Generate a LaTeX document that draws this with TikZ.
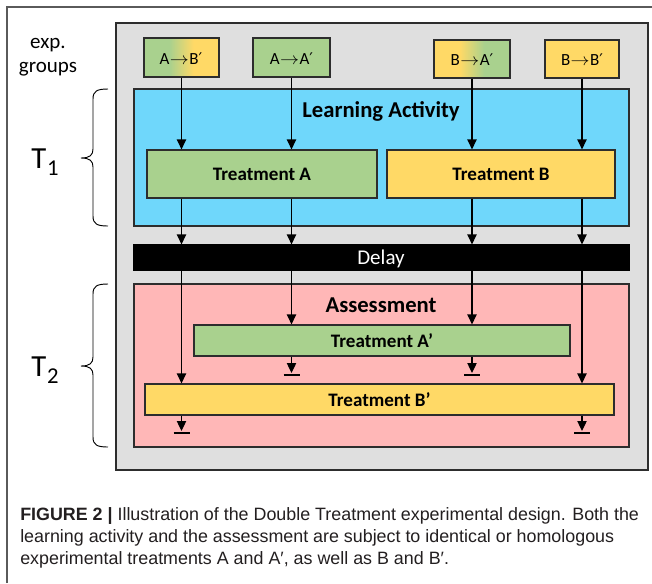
\documentclass[tikz,border=0pt]{standalone}
\usepackage{fix-cm}
\usepackage{fontspec}
\setmainfont{Carlito}
\newfontfamily\capfont{Liberation Sans}
\newfontfamily\symfont{DejaVu Sans}
\usetikzlibrary{arrows.meta,fit}
\definecolor{tgreen}{RGB}{169,209,142}
\definecolor{tyellow}{RGB}{255,217,102}
\definecolor{tblue}{RGB}{111,215,251}
\definecolor{tpink}{RGB}{255,183,183}
\definecolor{tgray}{RGB}{223,223,223}
\definecolor{tedge}{RGB}{45,45,45}
\definecolor{tframe}{RGB}{90,90,90}
\definecolor{captext}{RGB}{35,31,32}
\pgfdeclarehorizontalshading{gyshade}{100bp}{color(0bp)=(tgreen); color(42bp)=(tgreen); color(58bp)=(tyellow); color(100bp)=(tyellow)}
\pgfdeclarehorizontalshading{ygshade}{100bp}{color(0bp)=(tyellow); color(42bp)=(tyellow); color(58bp)=(tgreen); color(100bp)=(tgreen)}
\newcommand\pxfont[1]{\fontsize{#1}{#1}\selectfont}
\newcommand\pr{\textquoteright}
\newcommand\garr{\kern0.3pt\scalebox{1.12}[1]{$\rightarrow$}\kern0.3pt}
\newcommand\gpr{{\symfont\pxfont{12}′}}
\begin{document}
\begin{tikzpicture}[x=0.75pt,y=-0.75pt,
  box/.style={draw=tedge, line width=0.9pt, inner sep=0pt},
  lbl/.style={inner sep=0pt},
  grp/.style={lbl, font=\pxfont{12.75}},
  treat/.style={lbl, font=\bfseries\pxfont{14.3}},
  title/.style={font=\bfseries\pxfont{17}, anchor=base, inner sep=0pt},
  arr/.style={line width=0.9pt, -{Triangle[width=7pt,length=7.5pt]}},
  stopbar/.style={line width=1.6pt},
  brc/.style={line width=0.7pt},
  caption/.style={font=\capfont\pxfont{13.4}, text=captext, anchor=base west, inner sep=0pt}]
\useasboundingbox (0,0) rectangle (652,583);
\fill[white] (0,0) rectangle (652,583);
\draw[tframe, line width=0.8pt] (7,583) -- (7,7) -- (652,7);

% outer panel
\node[box, fill=tgray, fit={(116,23) (648,470)}] (outer) {};

% learning activity
\node[box, fill=tblue, fit={(134,89) (629,226)}] (learn) {};
\node[title] (learnt) at (381,117) {Learning Activity};
\node[box, fill=tgreen, fit={(147,150) (377,198)}] (ta) {};
\node[treat] (tat) at (ta.center) {Treatment A};
\node[box, fill=tyellow, fit={(387,150) (615,198)}] (tb) {};
\node[treat] (tbt) at (tb.center) {Treatment B};

% delay
\node[box, draw=black, fill=black, fit={(134,245) (629,270)}] (delay) {};
\node[lbl, text=white, font=\pxfont{15.75}, anchor=base] (delayt) at (381,264.5) {Delay};

% assessment
\node[box, fill=tpink, fit={(134,284) (629,447)}] (assess) {};
\node[title] (assesst) at (381,312) {Assessment};
\node[box, fill=tgreen, fit={(194,325) (570,356)}] (tap) {};
\node[treat] (tapt) at (tap.center) {Treatment A\pr};
\node[box, fill=tyellow, fit={(145,384) (614,415)}] (tbp) {};
\node[treat] (tbpt) at (tbp.center) {Treatment B\pr};

% experimental groups
\node[box, shade, shading=gyshade, fit={(144,38) (219,77)}] (ab) {};
\node[grp, anchor=base] (abt) at (181,64) {A\garr B\gpr};
\node[box, fill=tgreen, fit={(253,38) (330,77)}] (aa) {};
\node[grp, anchor=base] (aat) at (291.5,64) {A\garr A\gpr};
\node[box, shade, shading=ygshade, fit={(434,40) (510,78)}] (ba) {};
\node[grp, anchor=base] (bat) at (472,65) {B\garr A\gpr};
\node[box, fill=tyellow, fit={(545,40) (619,78)}] (bb) {};
\node[grp, anchor=base] (bbt) at (582,65) {B\garr B\gpr};

\node[font=\pxfont{15.75}, anchor=base, inner sep=0pt] (exp1) at (48,48) {exp.};
\node[font=\pxfont{15.75}, anchor=base, inner sep=0pt] (exp2) at (48,72) {groups};

% arrows: groups -> treatments
\draw[arr] (ab.south) -- (ab.south |- ta.north);
\draw[arr] (aa.south) -- (aa.south |- ta.north);
\draw[arr] (ba.south) -- (ba.south |- tb.north);
\draw[arr] (bb.south) -- (bb.south |- tb.north);
% treatments -> delay
\draw[arr] (ab.south |- ta.south) -- (ab.south |- delay.north);
\draw[arr] (aa.south |- ta.south) -- (aa.south |- delay.north);
\draw[arr] (ba.south |- tb.south) -- (ba.south |- delay.north);
\draw[arr] (bb.south |- tb.south) -- (bb.south |- delay.north);
% delay -> assessment treatments
\draw[arr] (ab.south |- delay.south) -- (ab.south |- tbp.north);
\draw[arr] (aa.south |- delay.south) -- (aa.south |- tap.north);
\draw[arr] (ba.south |- delay.south) -- (ba.south |- tap.north);
\draw[arr] (bb.south |- delay.south) -- (bb.south |- tbp.north);
% terminal stops
\coordinate (endA) at (0,373);
\coordinate (endB) at (0,431);
\coordinate (barA) at (0,375);
\coordinate (barB) at (0,433);
\draw[arr] (aa.south |- tap.south) -- (aa.south |- endA);
\draw[arr] (ba.south |- tap.south) -- (ba.south |- endA);
\draw[arr] (ab.south |- tbp.south) -- (ab.south |- endB);
\draw[arr] (bb.south |- tbp.south) -- (bb.south |- endB);
\draw[stopbar] ([xshift=-6pt]aa.south |- barA) -- ([xshift=6pt]aa.south |- barA);
\draw[stopbar] ([xshift=-6pt]ba.south |- barA) -- ([xshift=6pt]ba.south |- barA);
\draw[stopbar] ([xshift=-6pt]ab.south |- barB) -- ([xshift=6pt]ab.south |- barB);
\draw[stopbar] ([xshift=-6pt]bb.south |- barB) -- ([xshift=6pt]bb.south |- barB);

% braces and time labels
\draw[brc] (108,89) .. controls (97,89) and (93,91) .. (93,99) -- (93,149)
  .. controls (93,155) and (90,158) .. (81,158)
  .. controls (90,158) and (93,161) .. (93,167) -- (93,216)
  .. controls (93,224) and (97,226) .. (108,226);
\draw[brc] (108,284) .. controls (97,284) and (93,286) .. (93,294) -- (93,357)
  .. controls (93,363) and (90,366) .. (81,366)
  .. controls (90,366) and (93,369) .. (93,375) -- (93,437)
  .. controls (93,445) and (97,447) .. (108,447);
\node[font=\pxfont{23}, anchor=base, inner sep=0pt] (t1) at (45,168) {T\kern0.5pt\raisebox{-5.5pt}{\pxfont{17}1}};
\node[font=\pxfont{23}, anchor=base, inner sep=0pt] (t2) at (45,376) {T\kern0.5pt\raisebox{-5.5pt}{\pxfont{17}2}};

% caption
\node[caption] (cap1) at (20,520) {\textbf{FIGURE 2 |} Illustration of the Double Treatment experimental design. Both the};
\node[caption] (cap2) at (20,542) {learning activity and the assessment are subject to identical or homologous};
\node[caption] (cap3) at (20,564) {experimental treatments A and A′, as well as B and B′.};
\end{tikzpicture}
\end{document}
